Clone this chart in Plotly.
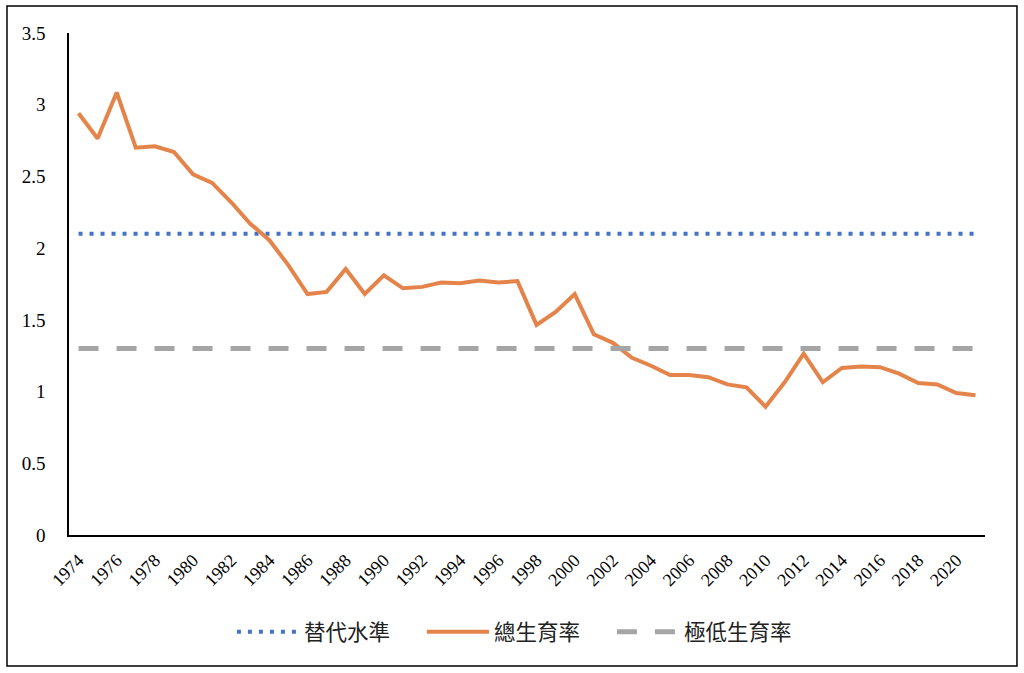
import plotly.graph_objects as go

years = list(range(1974, 2022))
tfr = [2.94, 2.765, 3.085, 2.70, 2.71, 2.67, 2.515, 2.455, 2.32, 2.17,
       2.055, 1.88, 1.68, 1.695, 1.855, 1.68, 1.81, 1.72, 1.73, 1.76,
       1.755, 1.775, 1.76, 1.77, 1.465, 1.555, 1.68, 1.40, 1.34, 1.235,
       1.18, 1.115, 1.115, 1.10, 1.05, 1.03, 0.895, 1.065, 1.265, 1.065,
       1.165, 1.175, 1.17, 1.125, 1.06, 1.05, 0.99, 0.975]
replacement = [2.1] * len(years)
lowest_low = [1.3] * len(years)
x_ticks = list(range(1974, 2021, 2))
y_ticks = [0, 0.5, 1, 1.5, 2, 2.5, 3, 3.5]
y_tick_text = ["0", "0.5", "1", "1.5", "2", "2.5", "3", "3.5"]

SERIF = "Liberation Serif, Times New Roman, DejaVu Serif, serif"

fig = go.Figure()
fig.add_trace(go.Scatter(x=years, y=replacement, mode="lines", name="替代水準",
                         line=dict(color="#4472C4", width=4, dash="4px,7px")))
fig.add_trace(go.Scatter(x=years, y=tfr, mode="lines", name="總生育率",
                         line=dict(color="#E5844A", width=4)))
fig.add_trace(go.Scatter(x=years, y=lowest_low, mode="lines", name="極低生育率",
                         line=dict(color="#A5A5A5", width=5, dash="20px,18px")))

fig.update_layout(
    width=1024, height=673,
    margin=dict(l=69, r=39, t=33, b=138),
    paper_bgcolor="white", plot_bgcolor="white",
    showlegend=True,
    legend=dict(orientation="h", x=0.489, xanchor="center", y=-0.193, yanchor="middle",
                font=dict(family="Noto Sans CJK TC", size=21.5, color="#222"),
                itemwidth=62, entrywidth=113, entrywidthmode="pixels", tracegroupgap=0),
    xaxis=dict(range=[1973.5, 2021.5], tickmode="array", tickvals=x_ticks,
               ticktext=[str(t) for t in x_ticks], tickangle=-45,
               showgrid=False, zeroline=False, showline=True, linecolor="black",
               linewidth=1.5, ticks="", ticklen=0, ticklabelstandoff=6,
               tickfont=dict(family=SERIF, size=18, color="black")),
    yaxis=dict(range=[0, 3.5], tickmode="array", tickvals=y_ticks, ticktext=y_tick_text,
               showgrid=False, zeroline=False, showline=True, linecolor="black",
               linewidth=1.5, ticks="", ticklabelstandoff=18,
               tickfont=dict(family=SERIF, size=19, color="black")),
    shapes=[dict(type="rect", xref="paper", yref="paper",
                 x0=-0.0677, x1=1.0349, y0=-0.261, y1=1.0538,
                 line=dict(color="black", width=1.5), fillcolor="rgba(0,0,0,0)")],
)

fig.write_html("out.html")
